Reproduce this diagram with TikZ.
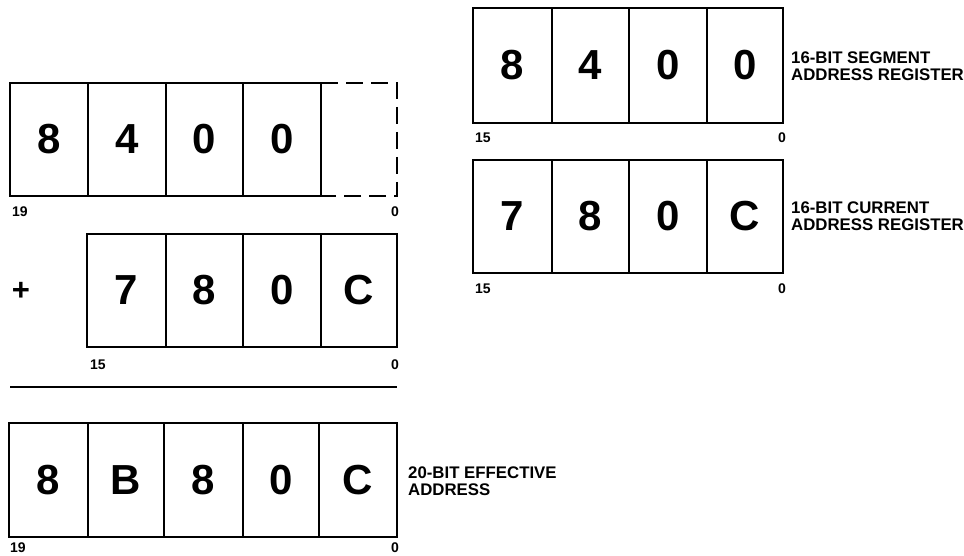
\documentclass[tikz,border=0pt]{standalone}
\usepackage{fontspec}
\setmainfont{Liberation Sans}
\begin{document}
\begin{tikzpicture}[x=1pt,y=-1pt,
  cell/.style={draw, line width=2.2pt, rectangle, inner sep=0pt, outer sep=0pt,
    font=\fontsize{42}{42}\selectfont\bfseries},
  ghost/.style={rectangle, inner sep=0pt, outer sep=0pt},
  dashbox/.style={line width=2.2pt, dash pattern=on 17pt off 8pt},
  bitnum/.style={inner sep=0pt, font=\fontsize{14}{14}\selectfont\bfseries},
  caption/.style={inner sep=0pt, anchor=north west, align=left,
    font=\fontsize{16.8}{16.5}\selectfont\bfseries},
  rule/.style={line width=2pt}]
\useasboundingbox (0,0) rectangle (964,556);

% ---- row 1: shifted segment (left top)
\node[cell, minimum width=78, minimum height=113] (a1) at (49,139.5) {8};
\node[cell, minimum width=78, minimum height=113] (a2) at (127,139.5) {4};
\node[cell, minimum width=77, minimum height=113] (a3) at (204.5,139.5) {0};
\node[cell, minimum width=78, minimum height=113] (a4) at (282,139.5) {0};
\node[ghost, minimum width=76, minimum height=113] (a5) at (359,139.5) {};
\draw[dashbox] (a5.north west) -- (a5.north east) -- (a5.south east) -- (a5.south west);
\node[bitnum, anchor=north west] (a19) at (12,207) {19};
\node[bitnum, anchor=north east] (a0) at (399,207) {0};

% ---- row 2: offset
\node[inner sep=0pt, font=\fontsize{31}{31}\selectfont\bfseries] (plus) at (21,291) {+};
\node[cell, minimum width=79, minimum height=113] (b1) at (126.5,290.5) {7};
\node[cell, minimum width=77, minimum height=113] (b2) at (204.5,290.5) {8};
\node[cell, minimum width=78, minimum height=113] (b3) at (282,290.5) {0};
\node[cell, minimum width=76, minimum height=113] (b4) at (359,290.5) {C};
\node[bitnum, anchor=north west] (b15) at (90,360) {15};
\node[bitnum, anchor=north east] (b0) at (399,360) {0};

% ---- sum rule
\coordinate (ruleL) at (10,387);
\coordinate (ruleR) at (397,387);
\draw[rule] (ruleL) -- (ruleR);

% ---- row 3: effective address
\node[cell, minimum width=79, minimum height=114] (c1) at (48.5,480) {8};
\node[cell, minimum width=76, minimum height=114] (c2) at (126,480) {B};
\node[cell, minimum width=79, minimum height=114] (c3) at (203.5,480) {8};
\node[cell, minimum width=76, minimum height=114] (c4) at (281,480) {0};
\node[cell, minimum width=78, minimum height=114] (c5) at (358,480) {C};
\node[bitnum, anchor=north west] (c19) at (10,543) {19};
\node[bitnum, anchor=north east] (c0) at (399,543) {0};
\node[caption] (ccap) at (408,467) {20-BIT EFFECTIVE\\ADDRESS};

% ---- right top: segment register
\node[cell, minimum width=79, minimum height=115] (d1) at (512.5,65.5) {8};
\node[cell, minimum width=77, minimum height=115] (d2) at (590.5,65.5) {4};
\node[cell, minimum width=78, minimum height=115] (d3) at (668,65.5) {0};
\node[cell, minimum width=76, minimum height=115] (d4) at (745,65.5) {0};
\node[bitnum, anchor=north west] (d15) at (475,133) {15};
\node[bitnum, anchor=north east] (d0) at (786,133) {0};
\node[caption] (dcap) at (791,52) {16-BIT SEGMENT\\ADDRESS REGISTER};

% ---- right second: current address register
\node[cell, minimum width=79, minimum height=113] (e1) at (512.5,216.5) {7};
\node[cell, minimum width=77, minimum height=113] (e2) at (590.5,216.5) {8};
\node[cell, minimum width=78, minimum height=113] (e3) at (668,216.5) {0};
\node[cell, minimum width=76, minimum height=113] (e4) at (745,216.5) {C};
\node[bitnum, anchor=north west] (e15) at (475,284) {15};
\node[bitnum, anchor=north east] (e0) at (786,284) {0};
\node[caption] (ecap) at (791,202) {16-BIT CURRENT\\ADDRESS REGISTER};
\end{tikzpicture}
\end{document}
